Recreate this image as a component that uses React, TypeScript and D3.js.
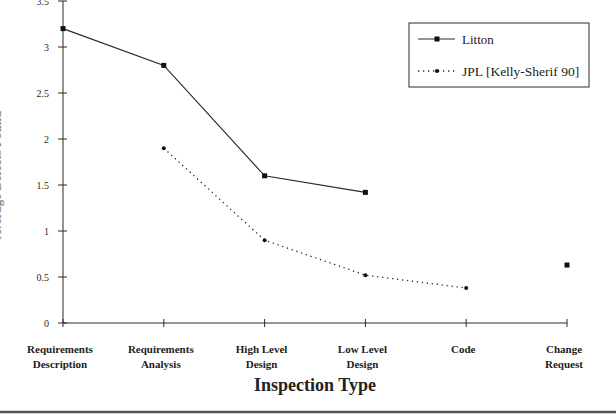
import React from 'react';
import * as d3 from 'd3';

const categories = [
  ['Requirements', 'Description'],
  ['Requirements', 'Analysis'],
  ['High Level', 'Design'],
  ['Low Level', 'Design'],
  ['Code'],
  ['Change', 'Request'],
];
const litton: (number | null)[] = [3.2, 2.8, 1.6, 1.42, null, 0.63];
const jpl: (number | null)[] = [null, 1.9, 0.9, 0.52, 0.38, null];
const yTicks = [0, 0.5, 1, 1.5, 2, 2.5, 3, 3.5];
const seriesNames = ['Litton', 'JPL [Kelly-Sherif 90]'];

const W = 616;
const H = 414;
const ink = '#2a2a2a';
const font = '"Liberation Serif", "Times New Roman", serif';

const App = () => {
  // plot area
  const x = d3.scalePoint<number>()
    .domain(categories.map((_, i) => i))
    .range([63, 567])
    .padding(0);

  const y = d3.scaleLinear()
    .domain([0, 3.5])
    .range([323, 1]);

  const line = d3.line<number | null>()
    .defined(d => d != null)
    .x((_, i) => x(i) as number)
    .y(d => y(d as number));

  const sq = 5;

  return (
    <svg width={W} height={H} style={{ position: 'absolute', left: 0, top: 0, background: '#fff' }}
      fontFamily={font}>
      {/* y axis label, cut off at the left edge like the scan */}
      <text transform="rotate(-90)" x={-175} y={1} textAnchor="middle" fontSize={13}
        fontWeight="bold" fill="#888">Average Defects Found</text>

      {/* y axis */}
      <line x1={x(0)} x2={x(0)} y1={y(3.5)} y2={y(0)} stroke={ink} strokeWidth={1} />
      {yTicks.map(t => (
        <g key={t}>
          <line x1={58} x2={67} y1={y(t)} y2={y(t)} stroke={ink} strokeWidth={1} />
          <text x={49} y={y(t)} dy="0.35em" textAnchor="end" fontSize={10} fill={ink}>{t}</text>
        </g>
      ))}

      {/* x axis */}
      <line x1={x(0)} x2={x(categories.length - 1)} y1={y(0)} y2={y(0)} stroke={ink} strokeWidth={1} />
      {categories.map((c, i) => (
        <g key={i}>
          <line x1={x(i)} x2={x(i)} y1={y(0) - 4} y2={y(0) + 4} stroke={ink} strokeWidth={1} />
          {c.map((s, k) => (
            <text key={k} x={(x(i) as number) - 3} y={353 + k * 15} textAnchor="middle" fontSize={11}
              fontWeight="bold" fill="#222">{s}</text>
          ))}
        </g>
      ))}
      <text x={315} y={391} textAnchor="middle" fontSize={18} fontWeight="bold" fill="#222">Inspection Type</text>

      {/* Litton */}
      <path d={line(litton) || ''} fill="none" stroke={ink} strokeWidth={1.2} />
      {litton.map((d, i) => d == null ? null : (
        <rect key={i} x={(x(i) as number) - sq / 2} y={y(d) - sq / 2} width={sq} height={sq} fill="#111" />
      ))}

      {/* JPL */}
      <path d={line(jpl) || ''} fill="none" stroke={ink} strokeWidth={1.3} strokeDasharray="1.3 3.7" />
      {jpl.map((d, i) => d == null ? null : (
        <circle key={i} cx={x(i)} cy={y(d)} r={2} fill="#111" />
      ))}

      {/* legend */}
      <rect x={409} y={23} width={180} height={64} fill="#fff" stroke={ink} strokeWidth={1} />
      <line x1={418} x2={455} y1={39} y2={39} stroke={ink} strokeWidth={1.2} />
      <rect x={437 - sq / 2} y={39 - sq / 2} width={sq} height={sq} fill="#111" />
      <text x={462} y={39} dy="0.35em" fontSize={13} fill="#222">{seriesNames[0]}</text>
      <line x1={418} x2={455} y1={71} y2={71} stroke={ink} strokeWidth={1.3} strokeDasharray="1.3 3.7" />
      <circle cx={437} cy={71} r={2} fill="#111" />
      <text x={462} y={71} dy="0.35em" fontSize={13.5} fill="#222">{seriesNames[1]}</text>

      {/* bottom rule */}
      <line x1={0} x2={W} y1={412} y2={412} stroke="#555" strokeWidth={2.5} />
    </svg>
  );
};

export default App;
